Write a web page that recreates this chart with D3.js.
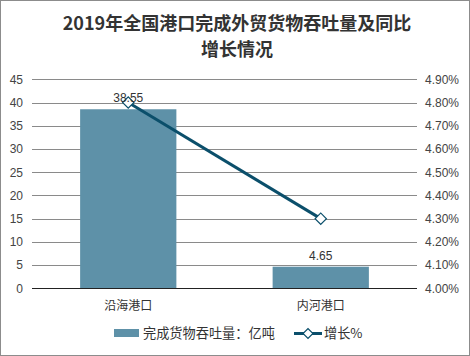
<!DOCTYPE html>
<html><head><meta charset="utf-8">
<script src="https://cdn.jsdelivr.net/npm/d3@7"></script>
<style>body{margin:0;background:#fff}svg{display:block;font-family:"Liberation Sans","Noto Sans CJK SC",sans-serif}</style>
</head><body><svg id="c" width="470" height="356"></svg>
<script>
const categories = ["沿海港口", "内河港口"];
const volumes = [38.55, 4.65];
const growth = [4.80, 4.30];
const leftTicks = [0,5,10,15,20,25,30,35,40,45];
const rightTicks = [4.0,4.1,4.2,4.3,4.4,4.5,4.6,4.7,4.8,4.9];
const titleLines = ["2019年全国港口完成外贸货物吞吐量及同比", "增长情况"];
const seriesNames = ["完成货物吞吐量：亿吨", "增长%"];

const svg = d3.select("#c");
const W = 470, H = 356;
const m = {l: 32, r: 417, t: 79.3, b: 288.3};
const barColor = "#5E91A8", lineColor = "#0B4F6B";

svg.append("rect").attr("x",0.5).attr("y",0.5).attr("width",W-1).attr("height",H-1)
  .attr("fill","#fff").attr("stroke","#8c8c8c").attr("stroke-width",1);

svg.selectAll("text.title").data(titleLines).join("text")
  .attr("x",237).attr("y",(d,i)=>30+i*26).attr("text-anchor","middle")
  .attr("font-size",18).attr("font-weight","bold").attr("fill","#333")
  .attr("font-family","'Noto Sans CJK SC',sans-serif").text(d=>d);

const x = d3.scaleBand().domain(categories).range([m.l,m.r]).paddingInner(0.5).paddingOuter(0.25);
const y = d3.scaleLinear().domain([0,45]).range([m.b,m.t]);
const y2 = d3.scaleLinear().domain([4.0,4.9]).range([m.b,m.t]);

// grid
svg.append("g").selectAll("line").data(leftTicks.slice(1)).join("line")
  .attr("x1",m.l).attr("x2",m.r).attr("y1",d=>Math.round(y(d))+0.5).attr("y2",d=>Math.round(y(d))+0.5)
  .attr("stroke","#8a8a8a").attr("stroke-width",1);

// bars
svg.append("g").selectAll("rect").data(volumes).join("rect")
  .attr("x",(d,i)=>x(categories[i])).attr("width",x.bandwidth())
  .attr("y",d=>y(d)).attr("height",d=>y(0)-y(d)).attr("fill",barColor);

// baseline
svg.append("line").attr("x1",m.l).attr("x2",m.r).attr("y1",Math.round(y(0))+0.5).attr("y2",Math.round(y(0))+0.5)
  .attr("stroke","#222").attr("stroke-width",1);

// left axis
const la = d3.axisLeft(y).tickValues(leftTicks).tickSize(0).tickPadding(9);
const gl = svg.append("g").attr("transform",`translate(${m.l},0)`).call(la);
gl.select(".domain").remove();
gl.selectAll("text").attr("font-size",12).attr("fill","#444").attr("font-family","'Liberation Sans',sans-serif");

// right axis
const ra = d3.axisRight(y2).tickValues(rightTicks).tickSize(0).tickPadding(8).tickFormat(d=>d.toFixed(2)+"%");
const gr = svg.append("g").attr("transform",`translate(${m.r},0)`).call(ra);
gr.select(".domain").remove();
gr.selectAll("text").attr("font-size",12).attr("fill","#444").attr("font-family","'Liberation Sans',sans-serif");

// x labels
svg.append("g").selectAll("text").data(categories).join("text")
  .attr("x",d=>x(d)+x.bandwidth()/2).attr("y",310).attr("text-anchor","middle")
  .attr("font-size",12).attr("fill","#333").attr("font-family","'Noto Sans CJK SC',sans-serif").text(d=>d);

// line
const cx = (d,i)=>x(categories[i])+x.bandwidth()/2;
svg.append("path").datum(growth)
  .attr("d",d3.line().x(cx).y(d=>y2(d)))
  .attr("fill","none").attr("stroke",lineColor).attr("stroke-width",3);
svg.append("g").selectAll("path").data(growth).join("path")
  .attr("transform",(d,i)=>`translate(${cx(d,i)},${y2(d)}) rotate(45)`)
  .attr("d","M-4,-4H4V4H-4Z").attr("fill","#fff").attr("stroke",lineColor).attr("stroke-width",1.2);

// bar labels
svg.append("g").selectAll("text").data(volumes).join("text")
  .attr("x",(d,i)=>cx(d,i)).attr("y",d=>y(d)-7).attr("text-anchor","middle")
  .attr("font-size",12).attr("fill","#333").attr("font-family","'Liberation Sans',sans-serif").text(d=>d.toFixed(2));

// legend
const lg = svg.append("g");
lg.append("rect").attr("x",114).attr("y",329).attr("width",25).attr("height",8).attr("fill",barColor);
lg.append("text").attr("x",143).attr("y",338).attr("font-size",13.2).attr("fill","#333")
  .attr("font-family","'Noto Sans CJK SC',sans-serif").text(seriesNames[0]);
lg.append("line").attr("x1",294).attr("x2",322).attr("y1",333.5).attr("y2",333.5).attr("stroke",lineColor).attr("stroke-width",3);
lg.append("path").attr("transform","translate(308,333.5) rotate(45)").attr("d","M-3.5,-3.5H3.5V3.5H-3.5Z")
  .attr("fill","#fff").attr("stroke",lineColor).attr("stroke-width",1.2);
lg.append("text").attr("x",324).attr("y",338).attr("font-size",13.2).attr("fill","#333")
  .attr("font-family","'Noto Sans CJK SC',sans-serif").text(seriesNames[1]);
</script></body></html>
